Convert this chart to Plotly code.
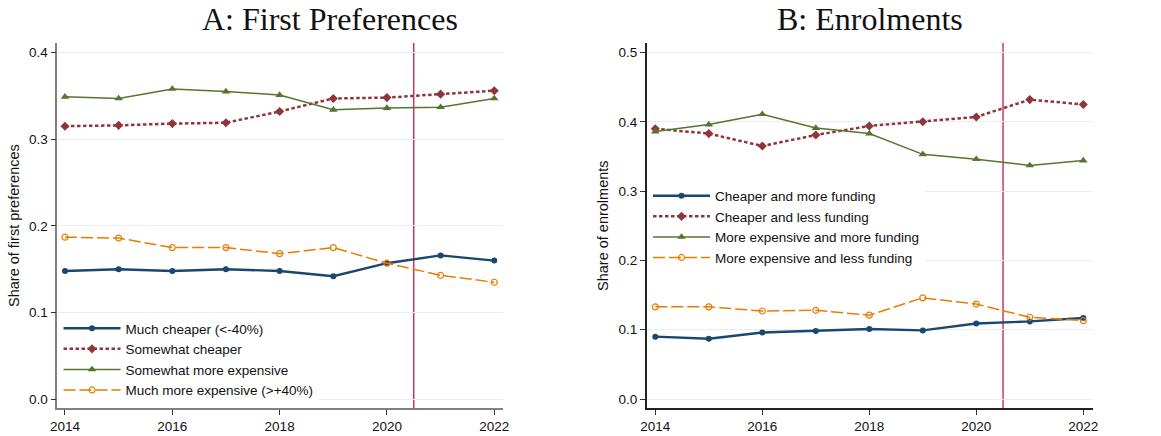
import plotly.graph_objects as go

years = [2014, 2015, 2016, 2017, 2018, 2019, 2020, 2021, 2022]

# Panel A: First preferences
fp_names = ["Much cheaper (<-40%)", "Somewhat cheaper",
            "Somewhat more expensive", "Much more expensive (>+40%)"]
fp_much_cheaper = [0.148, 0.150, 0.148, 0.150, 0.148, 0.142, 0.157, 0.166, 0.160]
fp_somewhat_cheaper = [0.315, 0.316, 0.318, 0.319, 0.332, 0.347, 0.348, 0.352, 0.356]
fp_somewhat_exp = [0.349, 0.347, 0.358, 0.355, 0.351, 0.334, 0.336, 0.337, 0.347]
fp_much_exp = [0.187, 0.186, 0.175, 0.175, 0.168, 0.175, 0.157, 0.143, 0.135]

# Panel B: Enrolments
en_names = ["Cheaper and more funding", "Cheaper and less funding",
            "More expensive and more funding", "More expensive and less funding"]
en_cheap_more = [0.090, 0.087, 0.096, 0.098, 0.101, 0.099, 0.109, 0.112, 0.117]
en_cheap_less = [0.390, 0.383, 0.365, 0.381, 0.394, 0.400, 0.407, 0.432, 0.425]
en_exp_more = [0.386, 0.396, 0.411, 0.391, 0.383, 0.353, 0.346, 0.337, 0.344]
en_exp_less = [0.133, 0.133, 0.127, 0.128, 0.121, 0.146, 0.137, 0.118, 0.113]

y_ticks = [0, 0.1, 0.2, 0.3, 0.4, 0.5]
x_ticks = [2014, 2016, 2018, 2020, 2022]
reform_year = 2020.5

W, H = 1161, 436
BLUE, RED, GREEN, ORANGE = "#1a476f", "#90353b", "#55752f", "#e37e00"
VLINE = "#c0053e"
GRID = "#e6eeef"
SANS = "Liberation Sans, Arial"
SERIF = "Liberation Serif, Times New Roman"


def px_x(p):  # screen px -> paper fraction
    return p / W


def px_y(p):
    return (H - p) / H


styles = [
    dict(line=dict(color=BLUE, width=2.4), marker=dict(symbol="circle", size=6, color=BLUE)),
    dict(line=dict(color=RED, width=2.5, dash="3.5px,2.5px"),
         marker=dict(symbol="diamond", size=7, color=RED)),
    dict(line=dict(color=GREEN, width=1.5), marker=dict(symbol="triangle-up", size=7.5, color=GREEN)),
    dict(line=dict(color=ORANGE, width=1.5, dash="12px,4px"),
         marker=dict(symbol="circle-open", size=6, color=ORANGE, line=dict(width=1.2, color=ORANGE))),
]

fig = go.Figure()

fp_series = [fp_much_cheaper, fp_somewhat_cheaper, fp_somewhat_exp, fp_much_exp]
en_series = [en_cheap_more, en_cheap_less, en_exp_more, en_exp_less]

for name, vals, st in zip(fp_names, fp_series, styles):
    fig.add_trace(go.Scatter(x=years, y=vals, name=name, mode="lines+markers",
                             xaxis="x", yaxis="y", legend="legend", **st))
for name, vals, st in zip(en_names, en_series, styles):
    fig.add_trace(go.Scatter(x=years, y=vals, name=name, mode="lines+markers",
                             xaxis="x2", yaxis="y2", legend="legend2", **st))

ydom = [px_y(408.3), px_y(43)]

tickfont = dict(family=SANS, size=13.5, color="#111")

common_x = dict(tickmode="array", tickvals=x_ticks,
                ticks="outside", ticklen=5, tickwidth=1, tickcolor="#333",
                showgrid=False, zeroline=False, showline=True, linewidth=1.5,
                tickfont=tickfont, automargin=False)
common_y = dict(tickmode="array", tickvals=y_ticks, ticks="outside", ticklen=5, tickwidth=1,
                tickcolor="#333", showgrid=True, gridcolor=GRID, gridwidth=1, zeroline=False,
                showline=True, linewidth=1.5, tickformat=".1f", tickfont=tickfont,
                automargin=False)

legend_common = dict(xanchor="left", yanchor="top", bgcolor="white", borderwidth=0,
                     itemwidth=57, font=dict(size=13.5, family=SANS, color="#111"))

title_font = dict(family=SERIF, size=32, color="#111")

fig.update_layout(
    width=W, height=H,
    margin=dict(l=0, r=0, t=0, b=0),
    paper_bgcolor="white", plot_bgcolor="white",
    font=dict(family=SANS, size=13, color="#111"),
    xaxis=dict(domain=[px_x(57.3), px_x(502.7)], range=[2013.857, 2022.157],
               anchor="y", linecolor="#808080", **common_x),
    yaxis=dict(domain=ydom, range=[-0.0104, 0.411], anchor="x", linecolor="#808080",
               **common_y),
    xaxis2=dict(domain=[px_x(646.7), px_x(1092.7)], range=[2013.839, 2022.176],
                anchor="y2", linecolor="#222", **common_x),
    yaxis2=dict(domain=ydom, range=[-0.0134, 0.5137], anchor="x2", linecolor="#222",
                **common_y),
    legend=dict(x=px_x(58.5), y=px_y(313), **legend_common),
    legend2=dict(x=px_x(648), y=px_y(180.5), **legend_common),
    showlegend=True,
    shapes=[
        dict(type="line", xref="x", yref="paper", x0=reform_year, x1=reform_year,
             y0=ydom[0], y1=ydom[1], line=dict(color=VLINE, width=1.2), layer="below"),
        dict(type="line", xref="x2", yref="paper", x0=reform_year, x1=reform_year,
             y0=ydom[0], y1=ydom[1], line=dict(color=VLINE, width=1.2), layer="below"),
    ],
    annotations=[
        dict(text="A: First Preferences", xref="paper", yref="paper",
             x=px_x(330), y=1, xanchor="center", yanchor="top", showarrow=False,
             borderpad=0, font=title_font),
        dict(text="B: Enrolments", xref="paper", yref="paper",
             x=px_x(870), y=1, xanchor="center", yanchor="top", showarrow=False,
             borderpad=0, font=title_font),
        dict(text="Share of first preferences", xref="paper", yref="paper",
             x=px_x(14), y=px_y(226), xanchor="center", yanchor="middle", showarrow=False,
             textangle=-90, font=dict(family=SANS, size=14.5, color="#111")),
        dict(text="Share of enrolments", xref="paper", yref="paper",
             x=px_x(603), y=px_y(226), xanchor="center", yanchor="middle", showarrow=False,
             textangle=-90, font=dict(family=SANS, size=14.5, color="#111")),
    ],
)

# remove the default 8px page margin so the figure fills the window exactly
fig.write_html(
    "out.html",
    config={"displayModeBar": False},
    post_script="document.body.style.margin='0';document.body.style.padding='0';"
                "document.body.style.overflow='hidden';",
)
